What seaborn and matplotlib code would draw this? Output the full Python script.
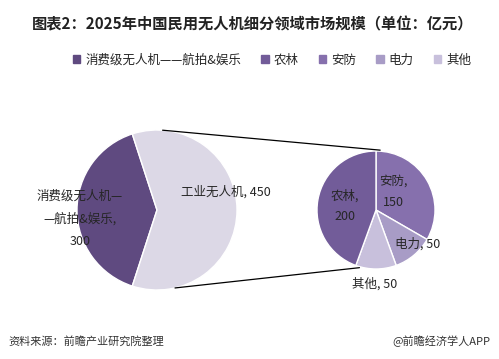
import numpy as np
import matplotlib.pyplot as plt
import seaborn as sns
from matplotlib.patches import Rectangle

sns.set_theme(style="white")
plt.rcParams['font.family'] = ['Noto Sans CJK SC', 'DejaVu Sans']

# main pie
main_labels = ['消费级无人机——航拍&娱乐', '工业无人机']
main_values = [300, 450]
main_text = ['消费级无人机—\n—航拍&娱乐,\n300', '工业无人机, 450']
main_colors = ['#5f4a80', '#dcd8e6']

# breakdown of 工业无人机
sub_labels = ['安防', '电力', '其他', '农林']
sub_values = [150, 50, 50, 200]
sub_colors = ['#8670ad', '#a89cc6', '#c8c0dc', '#725c99']

legend_labels = ['消费级无人机——航拍&娱乐', '农林', '安防', '电力', '其他']
legend_colors = ['#5f4a80', '#725c99', '#8670ad', '#a89cc6', '#c8c0dc']

fig = plt.figure(figsize=(4.99, 3.59), dpi=100)
ax = fig.add_axes([0, 0, 1, 1])
ax.set_xlim(0, 499)
ax.set_ylim(0, 359)
ax.set_aspect('equal')
ax.axis('off')

c1, r1 = (157, 149), 80
c2, r2 = (376, 149), 59

ax.pie(main_values, colors=main_colors, startangle=108, center=c1, radius=r1,
       wedgeprops=dict(edgecolor='white', linewidth=1), frame=True)
ax.pie(sub_values, colors=sub_colors, startangle=90, counterclock=False,
       center=c2, radius=r2, wedgeprops=dict(edgecolor='white', linewidth=1), frame=True)
ax.set_xlim(0, 499)
ax.set_ylim(0, 359)
ax.axis('off')

# connector lines
def pt(c, r, deg):
    a = np.deg2rad(deg)
    return c[0] + r * np.cos(a), c[1] + r * np.sin(a)

for a1, a2 in [(86, 86), (-77, -106)]:
    p1, p2 = pt(c1, r1, a1), pt(c2, r2 + 1, a2)
    ax.plot([p1[0], p2[0]], [p1[1], p2[1]], color='black', lw=0.9)

fs = 9
ax.text(80, 140, main_text[0], ha='center', va='center', fontsize=fs, linespacing=1.9)
ax.text(226, 167, main_text[1], ha='center', va='center', fontsize=fs)
ax.text(345, 153, '农林,\n200', ha='center', va='center', fontsize=fs, linespacing=1.8)
ax.text(393, 167, '安防,\n150', ha='center', va='center', fontsize=fs, linespacing=1.8)
ax.text(418, 115, '电力, 50', ha='center', va='center', fontsize=fs)
ax.text(375, 75, '其他, 50', ha='center', va='center', fontsize=fs)

fig.text(32 / 499, 1 - 24 / 359, '图表2：2025年中国民用无人机细分领域市场规模（单位：亿元）',
         ha='left', va='center', fontsize=11, fontweight='bold', color='#222222')

handles = [Rectangle((0, 0), 1, 1, color=c) for c in legend_colors]
fig.legend(handles, legend_labels, loc='center', bbox_to_anchor=(0.545, 1 - 60 / 359),
           ncol=5, frameon=False, fontsize=9, handlelength=0.6, handleheight=0.6,
           handletextpad=0.4, columnspacing=1.6)

fig.text(8 / 499, 1 - 341 / 359, '资料来源：前瞻产业研究院整理', ha='left', va='center',
         fontsize=8, style='italic', color='#333333')
fig.text(490 / 499, 1 - 341 / 359, '@前瞻经济学人APP', ha='right', va='center',
         fontsize=8, color='#333333')

fig.savefig('out.png', dpi=100)
